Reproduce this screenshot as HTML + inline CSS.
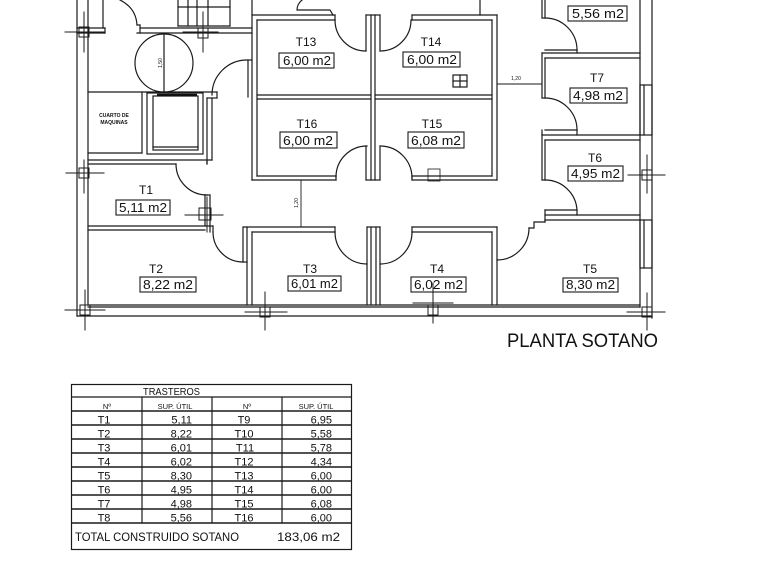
<!DOCTYPE html>
<html><head><meta charset="utf-8"><style>
html,body{margin:0;padding:0;background:#fff;}
svg{display:block}
text{font-family:"Liberation Sans",sans-serif;fill:#111}
</style></head><body>
<svg width="768" height="576" viewBox="0 0 768 576" xmlns="http://www.w3.org/2000/svg">
<rect x="0" y="0" width="768" height="576" fill="#fff"/>
<g fill="none" stroke="#1a1a1a" stroke-width="1.2" stroke-linecap="square">
<!-- left outer wall -->
<line x1="77" y1="0" x2="77" y2="316"/>
<line x1="88" y1="0" x2="88" y2="305"/>
<line x1="103" y1="0" x2="103" y2="28"/>
<line x1="77" y1="28" x2="105" y2="28"/>
<line x1="77" y1="33" x2="105" y2="33"/>
<line x1="105" y1="28" x2="105" y2="33"/>
<path d="M120,0 Q136,8 137,25"/>
<line x1="137" y1="25" x2="140" y2="25"/>
<line x1="140" y1="25" x2="140" y2="33"/>
<line x1="140" y1="28" x2="252" y2="28"/>
<line x1="137" y1="33" x2="252" y2="33"/>
<!-- stairs -->
<line x1="178" y1="0" x2="178" y2="26"/>
<line x1="188" y1="0" x2="188" y2="26"/>
<line x1="197" y1="0" x2="197" y2="26"/>
<line x1="208" y1="0" x2="208" y2="26"/>
<line x1="230" y1="0" x2="230" y2="26"/>
<line x1="178" y1="7" x2="230" y2="7"/>
<line x1="178" y1="26" x2="230" y2="26"/>
<!-- corridor wall -->
<line x1="252" y1="0" x2="252" y2="180"/>
<line x1="248" y1="60" x2="248" y2="97"/>
<line x1="248" y1="60" x2="252" y2="60"/>
<path d="M212,95 A35,35 0 0 1 247,60"/>
<line x1="88" y1="92" x2="212" y2="92"/>
<line x1="212" y1="92" x2="217" y2="92"/>
<line x1="217" y1="92" x2="217" y2="98"/>
<line x1="207" y1="98" x2="217" y2="98"/>
<!-- cuarto -->
<line x1="142" y1="92" x2="142" y2="153"/>
<line x1="88" y1="153" x2="142" y2="153"/>
<!-- elevator -->
<rect x="147" y="93" width="56" height="61"/>
<rect x="153" y="96" width="45" height="54"/>
<line x1="153" y1="147" x2="198" y2="147"/>
<line x1="207" y1="98" x2="207" y2="164"/>
<line x1="212" y1="98" x2="212" y2="160"/>
<!-- circle -->
<circle cx="164" cy="63" r="29"/>
<line x1="164" y1="34" x2="164" y2="92"/>
<!-- T1 -->
<line x1="88" y1="160" x2="212" y2="160"/>
<line x1="88" y1="164" x2="176" y2="164"/>
<line x1="207" y1="160" x2="207" y2="164"/>
<path d="M176,164 A31,31 0 0 0 207,195"/>
<line x1="205" y1="195" x2="205" y2="226"/>
<line x1="210" y1="195" x2="210" y2="232"/>
<line x1="205" y1="195" x2="210" y2="195"/>
<line x1="88" y1="226" x2="213" y2="226"/>
<line x1="88" y1="230" x2="205" y2="230"/>
<line x1="213" y1="226" x2="213" y2="232"/>
<!-- T2 door -->
<path d="M213,232 A30,30 0 0 0 243,262"/>
<!-- T3 -->
<line x1="243" y1="228" x2="243" y2="262"/>
<line x1="243" y1="262" x2="247" y2="262"/>
<line x1="247" y1="227" x2="247" y2="305"/>
<line x1="252" y1="232" x2="252" y2="305"/>
<line x1="243" y1="227" x2="335" y2="227"/>
<line x1="252" y1="232" x2="335" y2="232"/>
<line x1="335" y1="227" x2="335" y2="232"/>
<path d="M335,232 A32,32 0 0 0 367,264"/>
<line x1="367" y1="227" x2="367" y2="305"/>
<line x1="371" y1="227" x2="371" y2="305"/>
<line x1="376" y1="227" x2="376" y2="305"/>
<line x1="380" y1="227" x2="380" y2="305"/>
<line x1="367" y1="227" x2="380" y2="227"/>
<!-- T4 -->
<path d="M380,264 A32,32 0 0 0 412,232"/>
<line x1="412" y1="227" x2="497" y2="227"/>
<line x1="412" y1="232" x2="492" y2="232"/>
<line x1="412" y1="227" x2="412" y2="232"/>
<line x1="492" y1="232" x2="492" y2="305"/>
<line x1="497" y1="227" x2="497" y2="305"/>
<!-- T5 -->
<path d="M497,260 A32,32 0 0 0 529,228"/>
<path d="M529,228 H534 V222 H545 V220 H640"/>
<line x1="545" y1="215" x2="640" y2="215"/>
<!-- T6 -->
<line x1="542" y1="135" x2="542" y2="180"/>
<line x1="545" y1="140" x2="545" y2="180"/>
<line x1="542" y1="180" x2="545" y2="180"/>
<path d="M545,180 A32,32 0 0 1 577,210"/>
<line x1="545" y1="210" x2="577" y2="210"/>
<line x1="577" y1="210" x2="577" y2="215"/>
<line x1="545" y1="210" x2="545" y2="222"/>
<!-- T7 -->
<line x1="542" y1="53" x2="542" y2="98"/>
<line x1="545" y1="58" x2="545" y2="98"/>
<line x1="542" y1="98" x2="545" y2="98"/>
<path d="M545,98 A32,32 0 0 1 577,130"/>
<line x1="545" y1="130" x2="577" y2="130"/>
<line x1="577" y1="130" x2="577" y2="135"/>
<line x1="542" y1="130" x2="542" y2="135"/>
<line x1="542" y1="135" x2="640" y2="135"/>
<line x1="545" y1="140" x2="640" y2="140"/>
<!-- T8 -->
<line x1="542" y1="0" x2="542" y2="18"/>
<line x1="545" y1="0" x2="545" y2="18"/>
<line x1="542" y1="18" x2="545" y2="18"/>
<path d="M545,18 A32,32 0 0 1 577,50"/>
<line x1="545" y1="50" x2="577" y2="50"/>
<line x1="577" y1="50" x2="577" y2="53"/>
<line x1="542" y1="53" x2="640" y2="53"/>
<line x1="545" y1="58" x2="640" y2="58"/>
<!-- T13/T14 -->
<path d="M302,0 Q297,4 297,10 L330,10 L333,15"/>
<line x1="480" y1="0" x2="480" y2="15"/>
<line x1="252" y1="15" x2="335" y2="15"/>
<line x1="257" y1="20" x2="335" y2="20"/>
<line x1="335" y1="15" x2="335" y2="20"/>
<line x1="257" y1="20" x2="257" y2="176"/>
<path d="M335,20 A31,31 0 0 0 366,51"/>
<line x1="366" y1="15" x2="366" y2="51"/>
<line x1="371" y1="15" x2="371" y2="180"/>
<line x1="375" y1="15" x2="375" y2="180"/>
<line x1="380" y1="15" x2="380" y2="51"/>
<line x1="366" y1="15" x2="380" y2="15"/>
<path d="M380,51 A31,31 0 0 0 411,20"/>
<line x1="412" y1="15" x2="497" y2="15"/>
<line x1="412" y1="20" x2="492" y2="20"/>
<line x1="412" y1="15" x2="412" y2="20"/>
<line x1="492" y1="20" x2="492" y2="176"/>
<line x1="497" y1="15" x2="497" y2="180"/>
<line x1="257" y1="95" x2="371" y2="95"/>
<line x1="257" y1="99" x2="371" y2="99"/>
<line x1="375" y1="95" x2="492" y2="95"/>
<line x1="375" y1="99" x2="492" y2="99"/>
<rect x="453" y="75" width="14" height="12"/>
<line x1="460" y1="75" x2="460" y2="87"/>
<line x1="453" y1="81" x2="467" y2="81"/>
<!-- T16/T15 -->
<line x1="252" y1="180" x2="336" y2="180"/>
<line x1="257" y1="176" x2="336" y2="176"/>
<line x1="336" y1="176" x2="336" y2="180"/>
<path d="M336,177 A31,31 0 0 1 367,146"/>
<line x1="366" y1="146" x2="366" y2="180"/>
<line x1="380" y1="146" x2="380" y2="180"/>
<line x1="366" y1="180" x2="380" y2="180"/>
<path d="M380,146 A32,32 0 0 1 412,178"/>
<line x1="412" y1="176" x2="492" y2="176"/>
<line x1="412" y1="180" x2="497" y2="180"/>
<line x1="412" y1="176" x2="412" y2="180"/>
<rect x="428" y="169" width="12" height="12" stroke-width="0.8"/>
<!-- dimensions -->
<line x1="301" y1="180" x2="301" y2="227" stroke-width="0.9"/>
<line x1="497" y1="84" x2="542" y2="84" stroke-width="0.9"/>
<!-- bottom and right outer walls -->
<line x1="88" y1="305" x2="640" y2="305"/>
<line x1="88" y1="307" x2="640" y2="307"/>
<line x1="77" y1="316" x2="652" y2="316"/>
<line x1="640" y1="0" x2="640" y2="307"/>
<line x1="652" y1="0" x2="652" y2="318"/>
<rect x="640" y="85" width="12" height="50"/>
<line x1="644" y1="85" x2="644" y2="135"/>
<rect x="640" y="220" width="12" height="48"/>
<line x1="644" y1="220" x2="644" y2="268"/>
<!-- crosshairs -->
<g stroke-width="1">
<line x1="65" y1="32" x2="104" y2="32"/><line x1="84" y1="12" x2="84" y2="52"/><rect x="79" y="27" width="10" height="10"/>
<line x1="183" y1="32" x2="218" y2="32"/><line x1="203" y1="12" x2="203" y2="52"/><rect x="198" y="28" width="10" height="10"/>
<line x1="66" y1="173" x2="104" y2="173"/><line x1="84" y1="160" x2="84" y2="193"/><rect x="79" y="168" width="10" height="10"/>
<line x1="185" y1="215" x2="223" y2="215"/><line x1="207" y1="197" x2="207" y2="232"/><rect x="199" y="208" width="12" height="12"/>
<line x1="65" y1="310" x2="105" y2="310"/><line x1="85" y1="290" x2="85" y2="330"/><rect x="80" y="305" width="10" height="10"/>
<line x1="245" y1="312" x2="287" y2="312"/><line x1="265" y1="292" x2="265" y2="330"/><rect x="260" y="307" width="10" height="10"/>
<line x1="413" y1="303" x2="453" y2="303"/><line x1="433" y1="283" x2="433" y2="323"/><rect x="428" y="305" width="10" height="10"/>
<line x1="628" y1="175" x2="665" y2="175"/><line x1="647" y1="155" x2="647" y2="193"/><rect x="642" y="170" width="10" height="10"/>
<line x1="627" y1="312" x2="665" y2="312"/><line x1="647" y1="293" x2="647" y2="330"/><rect x="642" y="307" width="10" height="10"/>
</g>
<!-- area boxes -->
<g stroke-width="1.1">
<rect x="279" y="53" width="55" height="15"/>
<rect x="403" y="52" width="57" height="15"/>
<rect x="280" y="132" width="57" height="16"/>
<rect x="408" y="132" width="56" height="16"/>
<rect x="568" y="6" width="59" height="15"/>
<rect x="570" y="88" width="57" height="15"/>
<rect x="568" y="166" width="55" height="15"/>
<rect x="563" y="278" width="55" height="14"/>
<rect x="411" y="277" width="55" height="15"/>
<rect x="288" y="276" width="53" height="15"/>
<rect x="140" y="277" width="56" height="15"/>
<rect x="116" y="200" width="54" height="15"/>
</g>
</g>
<!-- elevator threshold -->
<line x1="157" y1="95" x2="197" y2="95" stroke="#111" stroke-width="2.5"/>

<!-- plan labels -->
<g font-size="12" text-anchor="middle">
<text x="306" y="46">T13</text>
<text x="431" y="46">T14</text>
<text x="307" y="128">T16</text>
<text x="432" y="128">T15</text>
<text x="597" y="82">T7</text>
<text x="595" y="162">T6</text>
<text x="590" y="273">T5</text>
<text x="437" y="273">T4</text>
<text x="310" y="273">T3</text>
<text x="156" y="273">T2</text>
<text x="146" y="194">T1</text>
</g>
<g font-size="13">
<text x="283" y="65" textLength="48" lengthAdjust="spacingAndGlyphs">6,00  m2</text>
<text x="407" y="64" textLength="50" lengthAdjust="spacingAndGlyphs">6,00  m2</text>
<text x="283" y="145" textLength="50" lengthAdjust="spacingAndGlyphs">6,00  m2</text>
<text x="411" y="145" textLength="50" lengthAdjust="spacingAndGlyphs">6,08  m2</text>
<text x="572" y="18" textLength="52" lengthAdjust="spacingAndGlyphs">5,56  m2</text>
<text x="573" y="100" textLength="50" lengthAdjust="spacingAndGlyphs">4,98  m2</text>
<text x="571" y="178" textLength="49" lengthAdjust="spacingAndGlyphs">4,95  m2</text>
<text x="566" y="289" textLength="49" lengthAdjust="spacingAndGlyphs">8,30  m2</text>
<text x="414" y="289" textLength="49" lengthAdjust="spacingAndGlyphs">6,02  m2</text>
<text x="291" y="288" textLength="47" lengthAdjust="spacingAndGlyphs">6,01  m2</text>
<text x="143" y="289" textLength="50" lengthAdjust="spacingAndGlyphs">8,22  m2</text>
<text x="119" y="212" textLength="48" lengthAdjust="spacingAndGlyphs">5,11  m2</text>
</g>
<g font-size="5" font-weight="bold" text-anchor="middle">
<text x="114" y="117">CUARTO DE</text>
<text x="114" y="124">MAQUINAS</text>
</g>
<text x="0" y="0" font-size="5" text-anchor="middle" transform="translate(162,63) rotate(-90)">1,50</text>
<text x="0" y="0" font-size="5" text-anchor="middle" transform="translate(298,203) rotate(-90)">1,20</text>
<text x="516" y="80" font-size="5" text-anchor="middle">1,20</text>

<text x="507" y="347" font-size="19" textLength="151" lengthAdjust="spacingAndGlyphs" fill="#222">PLANTA SOTANO</text>

<!-- table -->
<g fill="none" stroke="#1a1a1a">
<rect x="71.5" y="384.5" width="280" height="165" stroke-width="1.2"/>
<line x1="71.5" y1="397" x2="351.5" y2="397" stroke-width="1.2"/>
<line x1="71.5" y1="411" x2="351.5" y2="411" stroke-width="1.5"/>
<line x1="71.5" y1="425" x2="351.5" y2="425" stroke-width="1.5"/>
<line x1="71.5" y1="439" x2="351.5" y2="439" stroke-width="1.5"/>
<line x1="71.5" y1="453" x2="351.5" y2="453" stroke-width="1.5"/>
<line x1="71.5" y1="467" x2="351.5" y2="467" stroke-width="1.5"/>
<line x1="71.5" y1="481" x2="351.5" y2="481" stroke-width="1.5"/>
<line x1="71.5" y1="495" x2="351.5" y2="495" stroke-width="1.5"/>
<line x1="71.5" y1="509" x2="351.5" y2="509" stroke-width="1.5"/>
<line x1="71.5" y1="523" x2="351.5" y2="523" stroke-width="1.5"/>
<line x1="142" y1="397" x2="142" y2="523" stroke-width="1.2"/>
<line x1="212" y1="397" x2="212" y2="523" stroke-width="1.2"/>
<line x1="282" y1="397" x2="282" y2="523" stroke-width="1.2"/>
</g>
<text x="143" y="395" font-size="10" textLength="57" lengthAdjust="spacingAndGlyphs">TRASTEROS</text>
<g font-size="7.5" text-anchor="middle">
<text x="107" y="409">Nº</text>
<text x="175" y="409">SUP. ÚTIL</text>
<text x="247" y="409">Nº</text>
<text x="316" y="409">SUP. ÚTIL</text>
</g>
<g font-size="11" text-anchor="middle">
<text x="104" y="423.5">T1</text>
<text x="104" y="437.5">T2</text>
<text x="104" y="451.5">T3</text>
<text x="104" y="465.5">T4</text>
<text x="104" y="479.5">T5</text>
<text x="104" y="493.5">T6</text>
<text x="104" y="507.5">T7</text>
<text x="104" y="521.5">T8</text>
<text x="244" y="423.5">T9</text>
<text x="244" y="437.5">T10</text>
<text x="245" y="451.5">T11</text>
<text x="244" y="465.5">T12</text>
<text x="244" y="479.5">T13</text>
<text x="244" y="493.5">T14</text>
<text x="244" y="507.5">T15</text>
<text x="244" y="521.5">T16</text>
</g>
<g font-size="11" text-anchor="end">
<text x="192" y="423.5">5,11</text>
<text x="192" y="437.5">8,22</text>
<text x="192" y="451.5">6,01</text>
<text x="192" y="465.5">6,02</text>
<text x="192" y="479.5">8,30</text>
<text x="192" y="493.5">4,95</text>
<text x="192" y="507.5">4,98</text>
<text x="192" y="521.5">5,56</text>
<text x="332" y="423.5">6,95</text>
<text x="332" y="437.5">5,58</text>
<text x="332" y="451.5">5,78</text>
<text x="332" y="465.5">4,34</text>
<text x="332" y="479.5">6,00</text>
<text x="332" y="493.5">6,00</text>
<text x="332" y="507.5">6,08</text>
<text x="332" y="521.5">6,00</text>
</g>
<text x="75" y="541" font-size="11.5" textLength="164" lengthAdjust="spacingAndGlyphs">TOTAL  CONSTRUIDO  SOTANO</text>
<text x="277" y="541" font-size="11.5" textLength="63" lengthAdjust="spacingAndGlyphs">183,06  m2</text>
</svg>
</body></html>
